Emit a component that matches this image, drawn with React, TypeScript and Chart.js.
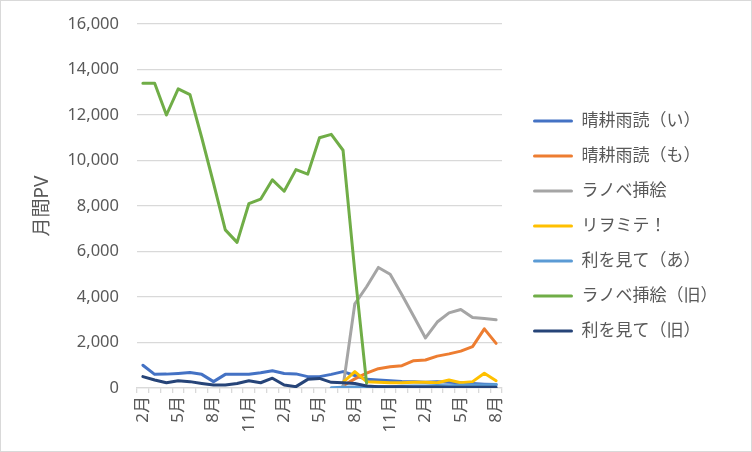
import React, { useEffect, useRef } from "react";
import Chart from "chart.js/auto";

const months: string[] = [
  "2月", "3月", "4月", "5月", "6月", "7月", "8月", "9月", "10月", "11月", "12月", "1月",
  "2月", "3月", "4月", "5月", "6月", "7月", "8月", "9月", "10月", "11月", "12月", "1月",
  "2月", "3月", "4月", "5月", "6月", "7月", "8月",
];

const seriesNames: string[] = [
  "晴耕雨読（い）",
  "晴耕雨読（も）",
  "ラノベ挿絵",
  "リヲミテ！",
  "利を見て（あ）",
  "ラノベ挿絵（旧）",
  "利を見て（旧）",
];

const seriesColors: string[] = [
  "#4472C4",
  "#ED7D31",
  "#A5A5A5",
  "#FFC000",
  "#5B9BD5",
  "#70AD47",
  "#264478",
];

const _ = null;

const seikouI: (number | null)[] = [
  1000, 600, 610, 640, 680, 600, 280, 600, 600, 600, 670, 760, 640, 620, 500, 500,
  600, 720, 550, 380, 350, 320, 290, 280, 250, 270, 250, 230, 200, 170, 150,
];

const seikouMo: (number | null)[] = [
  _, _, _, _, _, _, _, _, _, _, _, _, _, _, _, _,
  _, 100, 400, 650, 850, 930, 980, 1200, 1230, 1400, 1500, 1620, 1820, 2600, 1960,
];

const ranobe: (number | null)[] = [
  _, _, _, _, _, _, _, _, _, _, _, _, _, _, _, _,
  _, 50, 3700, 4450, 5300, 5000, 4100, 3150, 2200, 2900, 3300, 3450, 3100, 3050, 3000,
];

const riwomite: (number | null)[] = [
  _, _, _, _, _, _, _, _, _, _, _, _, _, _, _, _,
  _, 250, 720, 280, 250, 230, 230, 250, 250, 230, 350, 230, 280, 650, 320,
];

const riwomiteA: (number | null)[] = [
  _, _, _, _, _, _, _, _, _, _, _, _, _, _, _, _,
  10, 30, 40, 60, 70, 60, 80, 90, 90, 110, 100, 120, 130, 130, 150,
];

const ranobeOld: (number | null)[] = [
  13400, 13400, 12000, 13150, 12900, 11000, 9000, 6950, 6400, 8100, 8300, 9150, 8650, 9600, 9400, 11000,
  11150, 10450, 5100, 200, _, _, _, _, _, _, _, _, _, _, _,
];

const riwomiteOld: (number | null)[] = [
  500, 350, 230, 320, 280, 200, 130, 130, 200, 320, 230, 430, 130, 60, 380, 420,
  250, 230, 200, 90, 60, 50, 50, 40, 40, 40, 30, 30, 30, 30, 30,
];

const seriesValues = [seikouI, seikouMo, ranobe, riwomite, riwomiteA, ranobeOld, riwomiteOld];

const FONT = "'Noto Sans', 'Noto Sans CJK JP', sans-serif";
const TEXT = "#595959";
const GRID = "#D9D9D9";

const App: React.FC = () => {
  const chartRef = useRef<HTMLCanvasElement | null>(null);

  useEffect(() => {
    if (!chartRef.current) return;
    const myChart = new Chart(chartRef.current, {
      type: "line",
      data: {
        labels: months,
        datasets: seriesValues.map((values, i) => ({
          label: seriesNames[i],
          data: values,
          borderColor: seriesColors[i],
          backgroundColor: seriesColors[i],
          borderWidth: 3,
          pointRadius: 0,
          tension: 0,
          borderJoinStyle: "round" as const,
          borderCapStyle: "round" as const,
          // Excel draws later series on top
          order: seriesValues.length - i,
        })),
      },
      options: {
        animation: false,
        responsive: true,
        maintainAspectRatio: false,
        layout: { padding: { top: 0, right: 23.5, bottom: 0, left: 0 } },
        plugins: {
          tooltip: { enabled: false },
          legend: {
            position: "right",
            maxWidth: 260,
            labels: {
              boxWidth: 40,
              boxHeight: 3,
              padding: 18,
              color: TEXT,
              font: { family: FONT, size: 17 },
              sort: (a, b) => (a.datasetIndex ?? 0) - (b.datasetIndex ?? 0),
              generateLabels: (chart) =>
                Chart.defaults.plugins.legend.labels
                  .generateLabels(chart)
                  .map((item) => ({
                    ...item,
                    fillStyle: item.strokeStyle,
                    lineWidth: 0,
                    borderRadius: 1.5,
                  })),
            },
          },
        },
        scales: {
          x: {
            offset: true,
            grid: {
              offset: true,
              drawOnChartArea: false,
              drawTicks: true,
              tickLength: 5,
              color: GRID,
              lineWidth: 1.3,
            },
            border: { color: GRID, width: 1.3 },
            ticks: {
              autoSkip: false,
              minRotation: 90,
              maxRotation: 90,
              padding: 3,
              color: TEXT,
              font: { family: FONT, size: 17 },
              callback: (_v, index) => (index % 3 === 0 ? months[index] : ""),
            },
            afterFit: (scale) => {
              scale.height = 63;
            },
          },
          y: {
            min: 0,
            max: 16000,
            ticks: {
              stepSize: 2000,
              padding: 18,
              color: TEXT,
              font: { family: FONT, size: 16.5 },
              callback: (v) => Number(v).toLocaleString("en-US"),
            },
            grid: { color: GRID, lineWidth: 1.3, drawTicks: false },
            border: { display: false },
            title: {
              display: true,
              text: "月間PV",
              color: TEXT,
              font: { family: FONT, size: 19 },
              padding: { top: 30.5, bottom: 0 },
            },
            afterFit: (scale) => {
              scale.width = 136;
              // plot top sits 23px below the canvas edge
              scale.paddingTop = 23;
              scale.paddingBottom = 0;
            },
          },
          gap: {
            type: "linear",
            position: "right",
            display: true,
            grid: { display: false, drawTicks: false },
            border: { display: false },
            ticks: { display: false },
            afterFit: (scale) => {
              scale.width = 13;
            },
          },
        },
      },
    });

    return () => {
      myChart.destroy();
    };
  }, []);

  return (
    <div
      style={{
        position: "absolute",
        left: 0,
        top: 0,
        width: 752,
        height: 452,
        boxSizing: "border-box",
        border: `1px solid ${GRID}`,
        background: "#fff",
      }}
    >
      <canvas ref={chartRef} />
    </div>
  );
};

export default App;
